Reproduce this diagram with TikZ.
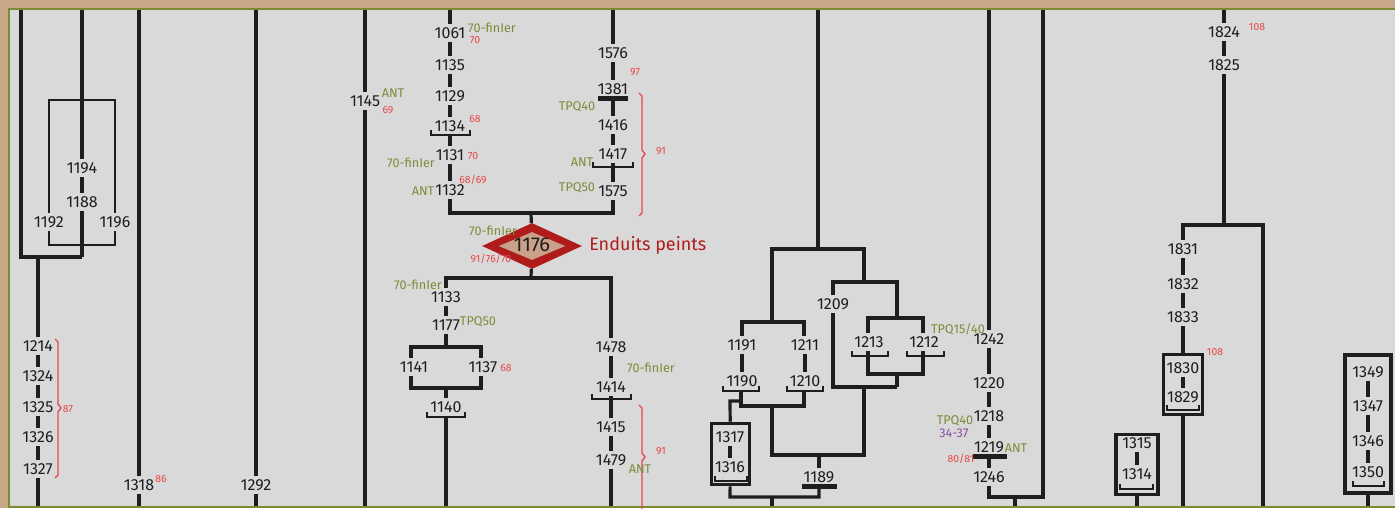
\documentclass[tikz,border=0pt]{standalone}
\usepackage{fontspec}
\setmainfont{Fira Sans}
\usetikzlibrary{shapes.geometric}
\definecolor{tanbg}{HTML}{C8A688}
\definecolor{panel}{HTML}{D9D9D9}
\definecolor{olive}{HTML}{7B8B2E}
\definecolor{ink}{HTML}{1E1E1E}
\definecolor{grn}{HTML}{7D8C3A}
\definecolor{rd}{HTML}{E84848}
\definecolor{prp}{HTML}{8A50A8}
\definecolor{dred}{HTML}{B01C1C}
\definecolor{dfill}{HTML}{C9A08A}
\newcommand\myinbox[1]{\draw[ink,line width=0.8pt] ([shift={(3,-3)}]#1.south west) rectangle ([shift={(-3,3)}]#1.north east);}
\newcommand\myubr[3]{\draw[br] (#1,#3) -- (#1,#3+5) -- (#2,#3+5) -- (#2,#3);}
\begin{document}
\begin{tikzpicture}[x=0.75pt,y=-0.75pt,
 ln/.style={draw=ink,line width=2.4pt},
 br/.style={draw=ink,line width=1.9pt},
 lab/.style={font=\fontsize{12}{14}\selectfont,text=ink,inner sep=0pt,minimum height=12.75pt},
 gn/.style={font=\fontsize{9.5}{11}\selectfont,text=grn,inner sep=0pt},
 rn/.style={font=\fontsize{7.8}{9}\selectfont,text=rd,inner sep=0pt},
 pn/.style={font=\fontsize{9.5}{11}\selectfont,text=prp,inner sep=0pt},
 brace/.style={draw=rd,line width=1pt},
 grp/.style={draw=ink,inner sep=0pt},
]
\useasboundingbox (0,0) rectangle (1395,508);
\fill[tanbg] (0,0) rectangle (1395,508);
\filldraw[fill=panel,draw=olive,line width=1.5pt] (8.5,8.5) rectangle (1400,506.5);

% ---------- left block
\coordinate (a21t) at (21,9.5); \coordinate (a21b) at (21,257);
\coordinate (a82t) at (82,9.5); \coordinate (a82b) at (82,257);
\node[lab] (n1194) at (82,168) {1194};
\node[lab] (n1188) at (82,202) {1188};
\node[lab] (n1192) at (49,222) {1192};
\node[lab] (n1196) at (115,222) {1196};
\draw[ln] (a21t) -- (a21b) -- (a82b);
\draw[ln] (a82t) -- (n1194);
\draw[ln] (n1194) -- (n1188);
\draw[ln] (n1188) -- (a82b);
\coordinate (r49) at (49,100); \coordinate (r115) at (115,100);
\coordinate (s49) at (49,245); \coordinate (s115) at (115,245);
\draw[br] (n1192) -- (r49) -- (r115) -- (n1196);
\draw[br] (n1192) -- (s49) -- (s115) -- (n1196);

\coordinate (a38t) at (38,257); \coordinate (a38b) at (38,506);
\node[lab] (n1214) at (38,346) {1214};
\node[lab] (n1324) at (38,376) {1324};
\node[lab] (n1325) at (38,407) {1325};
\node[lab] (n1326) at (38,437) {1326};
\node[lab] (n1327) at (38,469) {1327};
\draw[ln] (a38t) -- (n1214);
\draw[ln] (n1214) -- (n1324);
\draw[ln] (n1324) -- (n1325);
\draw[ln] (n1325) -- (n1326);
\draw[ln] (n1326) -- (n1327);
\draw[ln] (n1327) -- (a38b);
\draw[brace] (55,339) -- (58,342) -- (58,404) -- (61,408) -- (58,412) -- (58,475) -- (55,478);
\node[rn] (r87) at (68,409) {87};

\coordinate (a139t) at (139,9.5); \coordinate (a139b) at (139,506);
\node[lab] (n1318) at (139,485) {1318};
\draw[ln] (a139t) -- (n1318); \draw[ln] (n1318) -- (a139b);
\node[rn] (r86) at (161,479) {86};

\coordinate (a256t) at (256,9.5); \coordinate (a256b) at (256,506);
\node[lab] (n1292) at (256,485) {1292};
\draw[ln] (a256t) -- (n1292); \draw[ln] (n1292) -- (a256b);

\coordinate (a365t) at (365,9.5); \coordinate (a365b) at (365,506);
\node[lab] (n1145) at (365,101) {1145};
\draw[ln] (a365t) -- (n1145); \draw[ln] (n1145) -- (a365b);
\node[gn] (g1) at (393,93) {ANT};
\node[rn] (r69) at (388,110) {69};

% ---------- column 450 / 613
\coordinate (a450t) at (450,9.5);
\node[lab] (n1061) at (450,33) {1061};
\node[lab] (n1135) at (450,65) {1135};
\node[lab] (n1129) at (450,96) {1129};
\node[lab] (n1134) at (450,126) {1134};
\node[lab] (n1131) at (450,155) {1131};
\node[lab] (n1132) at (450,190) {1132};
\draw[ln] (a450t) -- (n1061);
\draw[ln] (n1061) -- (n1135);
\draw[ln] (n1135) -- (n1129);
\draw[ln] (n1129) -- (n1134);
\draw[ln] (n1134) -- (n1131);
\draw[ln] (n1131) -- (n1132);
\myubr{431}{470}{130}
\node[gn] (g2) at (492,28) {70-finIer};
\node[rn] (r1) at (475,40) {70};
\node[rn] (r2) at (475,119) {68};
\node[rn] (r3) at (473,156) {70};
\node[gn] (g3) at (411,163) {70-finIer};
\node[rn] (r4) at (473,180) {68/69};
\node[gn] (g4) at (423,191) {ANT};

\coordinate (a613t) at (613,9.5);
\node[lab] (n1576) at (613,53) {1576};
\node[lab] (n1381) at (613,89) {1381};
\node[lab] (n1416) at (613,125) {1416};
\node[lab] (n1417) at (613,154) {1417};
\node[lab] (n1575) at (613,191) {1575};
\draw[ln] (a613t) -- (n1576);
\draw[ln] (n1576) -- (n1381);
\draw[ln] (n1381) -- (n1416);
\draw[ln] (n1416) -- (n1417);
\draw[ln] (n1417) -- (n1575);
\fill[ink] (598,96) rectangle (628,101);
\myubr{593}{633}{162}
\node[rn] (r5) at (635,72) {97};
\node[gn] (g5) at (577,107) {TPQ40};
\node[gn] (g6) at (582,162) {ANT};
\node[gn] (g7) at (577,188) {TPQ50};
\draw[brace] (639,93) -- (642,96) -- (642,150) -- (645,154) -- (642,158) -- (642,213) -- (639,216);
\node[rn] (r6) at (661,151) {91};

\coordinate (j450) at (450,213); \coordinate (j613) at (613,213);
\coordinate (j531) at (531,213);
\draw[ln] (n1132) -- (j450) -- (j613) -- (n1575);

% ---------- diamond
\node[diamond,fill=dred,minimum width=75pt,minimum height=34.5pt,inner sep=0pt] (d1176) at (532,246) {};
\node[diamond,fill=dfill,minimum width=50pt,minimum height=21pt,inner sep=0pt] (d1176i) at (532,246) {};
\draw[ln] (j531) -- (d1176);
\node[font=\fontsize{15}{18}\selectfont,text=ink,inner sep=0pt] (t1176) at (532,245) {1176};
\node[font=\fontsize{13.5}{16}\selectfont,text=dred,inner sep=0pt,anchor=west] (tEP) at (589,245) {Enduits peints};
\node[gn] (g8) at (493,231) {70-finIer};
\node[rn] (r7) at (491,259) {91/76/70};

\coordinate (j531b) at (531,278); \coordinate (j446) at (446,278); \coordinate (j611) at (611,278);
\draw[ln] (d1176) -- (j531b);
\node[lab] (n1133) at (446,297) {1133};
\node[lab] (n1478) at (611,347) {1478};
\draw[ln] (n1133) -- (j446) -- (j611) -- (n1478);
\node[gn] (g9) at (418,285) {70-finIer};
\node[lab] (n1177) at (446,325) {1177};
\draw[ln] (n1133) -- (n1177);
\node[gn] (g10) at (478,322) {TPQ50};
\coordinate (j446b) at (446,347);
\draw[ln] (n1177) -- (j446b);
\node[lab] (n1141) at (414,367) {1141};
\node[lab] (n1137) at (483,367) {1137};
\node[rn] (r8) at (506,368) {68};
\coordinate (j411) at (411,347); \coordinate (j481) at (481,347);
\coordinate (k411) at (411,388); \coordinate (k481) at (481,388);
\draw[ln] (n1141.north -| j411) -- (j411) -- (j481) -- (n1137.north -| j481);
\draw[ln] (n1141.south -| k411) -- (k411) -- (k481) -- (n1137.south -| k481);
\coordinate (k446) at (446,388); \coordinate (a446b) at (446,506);
\node[lab] (n1140) at (446,407) {1140};
\draw[ln] (k446) -- (n1140);
\draw[ln] (n1140) -- (a446b);
\myubr{427}{465}{412}

\node[lab] (n1414) at (611,387) {1414};
\node[lab] (n1415) at (611,427) {1415};
\node[lab] (n1479) at (611,460) {1479};
\coordinate (a611b) at (611,506);
\draw[ln] (n1478) -- (n1414);
\draw[ln] (n1414) -- (n1415);
\draw[ln] (n1415) -- (n1479);
\draw[ln] (n1479) -- (a611b);
\myubr{592}{631}{394}
\node[gn] (g11) at (651,368) {70-finIer};
\draw[brace] (639,405) -- (642,408) -- (642,453) -- (645,457) -- (642,461) -- (642,510);
\node[gn] (g12) at (640,469) {ANT};
\node[rn] (r9) at (661,451) {91};

% ---------- middle right
\coordinate (a818t) at (818,9.5); \coordinate (j818) at (818,249);
\coordinate (j772) at (772,249); \coordinate (j864) at (864,249);
\coordinate (j772b) at (772,322); \coordinate (j864b) at (864,282);
\draw[ln] (a818t) -- (j818);
\draw[ln] (j772b) -- (j772) -- (j864) -- (j864b);
\node[lab] (n1191) at (742,345) {1191};
\node[lab] (n1211) at (805,345) {1211};
\node[lab] (n1190) at (742,381) {1190};
\node[lab] (n1210) at (805,381) {1210};
\coordinate (j742) at (742,322); \coordinate (j804) at (804,322);
\draw[ln] (n1191.north -| j742) -- (j742) -- (j804) -- (n1211.north -| j804);
\draw[ln] (n1191) -- (n1190);
\draw[ln] (n1211) -- (n1210);
\myubr{723}{759}{386}
\myubr{787}{823}{386}
\coordinate (k741) at (741,406); \coordinate (k804) at (804,406);
\draw[ln] (n1190.south -| k741) -- (k741) -- (k804) -- (n1210.south -| k804);
\coordinate (k730) at (730,401);
\node[grp,line width=1.9pt,minimum width=29.25pt,minimum height=46.5pt] (b1317) at (730.5,454) {};
\myinbox{b1317}
\node[lab] (n1317) at (730,437) {1317};
\node[lab] (n1316) at (730,467) {1316};
\draw[ln] (n1317) -- (n1316);
\myubr{715}{747}{476}
\draw[ln] (k730 -| k741) -- (k730) -- (b1317);
\coordinate (m772a) at (772,406); \coordinate (m772b) at (772,455);
\coordinate (m864b) at (864,455); \coordinate (m864a) at (864,387);
\draw[ln] (m772a) -- (m772b) -- (m864b) -- (m864a);
\coordinate (m819) at (819,455);
\node[lab] (n1189) at (819,477) {1189};
\draw[ln] (m819) -- (n1189);
\fill[ink] (802,484) rectangle (837,489);
\coordinate (p730) at (730,497); \coordinate (p819) at (819,497); \coordinate (q819) at (819,489);
\draw[ln] (b1317) -- (p730) -- (p819) -- (q819);
\coordinate (p772) at (772,497); \coordinate (p772b) at (772,506);
\draw[ln] (p772) -- (p772b);

\node[lab] (n1209) at (833,304) {1209};
\coordinate (j833) at (833,282); \coordinate (j897) at (897,282); \coordinate (j897b) at (897,318);
\coordinate (m833) at (833,387); \coordinate (m897) at (897,387);
\draw[ln] (n1209) -- (j833) -- (j897) -- (j897b);
\draw[ln] (n1209) -- (m833) -- (m897);
\node[lab] (n1213) at (869,342) {1213};
\node[lab] (n1212) at (924,342) {1212};
\coordinate (j868) at (868,318); \coordinate (j923) at (923,318);
\draw[ln] (n1213.north -| j868) -- (j868) -- (j923) -- (n1212.north -| j923);
\myubr{852}{888}{351}
\myubr{907}{944}{351}
\coordinate (k868) at (868,374); \coordinate (k923) at (923,374); \coordinate (k897) at (897,374);
\draw[ln] (n1213.south -| k868) -- (k868) -- (k923) -- (n1212.south -| k923);
\draw[ln] (k897) -- (m897);
\node[gn] (g13) at (958,329) {TPQ15/40};

\coordinate (a989t) at (989,9.5);
\node[lab] (n1242) at (989,339) {1242};
\node[lab] (n1220) at (989,383) {1220};
\node[lab] (n1218) at (989,416) {1218};
\node[lab] (n1219) at (989,447) {1219};
\node[lab] (n1246) at (989,477) {1246};
\draw[ln] (a989t) -- (n1242);
\draw[ln] (n1242) -- (n1220);
\draw[ln] (n1220) -- (n1218);
\draw[ln] (n1218) -- (n1219);
\draw[ln] (n1219) -- (n1246);
\fill[ink] (973,454) rectangle (1007,459);
\coordinate (p989) at (989,497); \coordinate (p1043) at (1043,497); \coordinate (a1043t) at (1043,9.5);
\draw[ln] (n1246) -- (p989) -- (p1043) -- (a1043t);
\coordinate (p1015) at (1015,497); \coordinate (p1015b) at (1015,506);
\draw[ln] (p1015) -- (p1015b);
\node[gn] (g14) at (955,421) {TPQ40};
\node[pn] (p1) at (954,433) {34-37};
\node[gn] (g15) at (1016,448) {ANT};
\node[rn] (r10) at (961,459) {80/81};

% ---------- right block
\coordinate (a1224t) at (1224,9.5);
\node[lab] (n1824) at (1224,32) {1824};
\node[lab] (n1825) at (1224,65) {1825};
\node[rn] (r11) at (1257,27) {108};
\coordinate (j1224) at (1224,225); \coordinate (j1183) at (1183,225);
\coordinate (j1263) at (1263,225); \coordinate (a1263b) at (1263,506);
\draw[ln] (a1224t) -- (n1824);
\draw[ln] (n1824) -- (n1825);
\draw[ln] (n1825) -- (j1224);
\node[lab] (n1831) at (1183,249) {1831};
\node[lab] (n1832) at (1183,284) {1832};
\node[lab] (n1833) at (1183,317) {1833};
\draw[ln] (n1831) -- (j1183) -- (j1263) -- (a1263b);
\draw[ln] (n1831) -- (n1832);
\draw[ln] (n1832) -- (n1833);
\node[grp,line width=1.7pt,minimum width=30pt,minimum height=45.75pt] (b1830) at (1183,384.5) {};
\myinbox{b1830}
\node[lab] (n1830) at (1183,368) {1830};
\node[lab] (n1829) at (1183,397) {1829};
\draw[ln] (n1830) -- (n1829);
\myubr{1167}{1199}{405}
\node[rn] (r12) at (1215,352) {108};
\draw[ln] (n1833) -- (b1830);
\coordinate (a1183b) at (1183,506);
\draw[ln] (b1830) -- (a1183b);

\node[grp,line width=1.7pt,minimum width=32.25pt,minimum height=45.75pt] (b1315) at (1137,464.5) {};
\myinbox{b1315}
\node[lab] (n1315) at (1137,443) {1315};
\node[lab] (n1314) at (1137,474) {1314};
\draw[ln] (n1315) -- (n1314);
\myubr{1120}{1153}{484}
\coordinate (a1137b) at (1137,506);
\draw[ln] (b1315) -- (a1137b);

\node[grp,line width=2.4pt,minimum width=34.5pt,minimum height=103.5pt] (b1349) at (1368,424) {};
\myinbox{b1349}
\node[lab] (n1349) at (1368,372) {1349};
\node[lab] (n1347) at (1368,406) {1347};
\node[lab] (n1346) at (1368,441) {1346};
\node[lab] (n1350) at (1368,472) {1350};
\draw[ln] (n1349) -- (n1347);
\draw[ln] (n1347) -- (n1346);
\draw[ln] (n1346) -- (n1350);
\myubr{1353}{1384}{481}
\coordinate (a1368b) at (1368,506);
\draw[ln] (b1349) -- (a1368b);
\end{tikzpicture}
\end{document}
